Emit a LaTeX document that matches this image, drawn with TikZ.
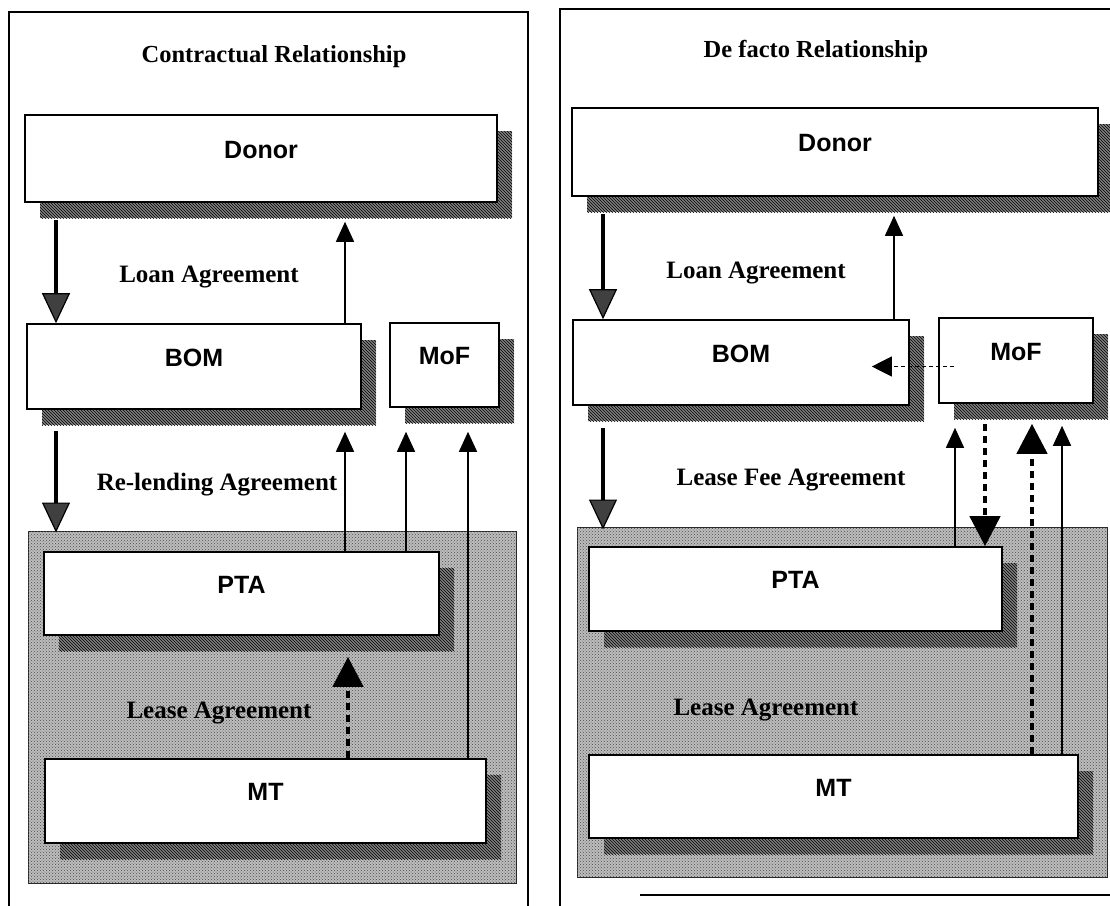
\documentclass[tikz,border=0pt]{standalone}
\usepackage{fontspec}
\setmainfont{Liberation Serif}
\newfontfamily\boxfont{Liberation Sans}
\usetikzlibrary{arrows.meta,calc,patterns,shadows}

\tikzset{
  box/.style={draw=black, line width=1.6pt, fill=white, inner sep=0pt,
    font=\boxfont\bfseries\fontsize{25}{28}\selectfont,
    text height=18pt, text depth=19pt,
    drop shadow={shadow xshift=15pt, shadow yshift=-16pt, opacity=1,
      fill=black!50, draw=none,
      postaction={pattern=north west lines, pattern color=black}}},
  zone/.style={draw=black!85, line width=1pt, fill=black!26, inner sep=0pt,
    postaction={pattern=crosshatch dots, pattern color=black!70}},
  heading/.style={font=\bfseries\fontsize{24.5}{28}\selectfont, anchor=base, inner sep=0pt},
  agree/.style={font=\bfseries\fontsize{25}{28}\selectfont, anchor=base, inner sep=0pt},
  frame/.style={line width=1.6pt},
  bigflow/.style={line width=4pt,
    -{Triangle[width=28pt,length=30pt,fill=black!75,line width=1.2pt]}},
  thinflow/.style={line width=1.5pt, -{Triangle[width=18pt,length=20pt]}},
  dashflow/.style={line width=4.5pt, dash pattern=on 7pt off 5pt,
    -{Triangle[width=30pt,length=30pt]}},
  hintflow/.style={line width=1.2pt, dash pattern=on 4pt off 3pt,
    -{Triangle[width=20pt,length=20pt]}},
}

\begin{document}
\begin{tikzpicture}[x=1pt, y=-1pt]
\useasboundingbox (0,0) rectangle (1110,905);
\fill[white] (0,0) rectangle (1110,905);

% panel frames
\draw[frame] (9,910) -- (9,12) -- (528,12) -- (528,910);
\draw[frame] (560,910) -- (560,9) -- (1115,9);
\draw[frame] (640,895) -- (1115,895);

% ---------------- contractual relationship ----------------
\node[heading] (titleL) at (274,62) {Contractual Relationship};

\node[zone, minimum width=488pt, minimum height=352pt] (zoneL) at (272,707) {};

\node[box, minimum width=472pt, minimum height=87pt] (donorL) at (261,158.5) {Donor};
\node[box, minimum width=334pt, minimum height=85pt] (bomL) at (194,366.5) {BOM};
\node[box, minimum width=109pt, minimum height=84pt] (mofL) at (444.5,365) {MoF};
\node[box, minimum width=395pt, minimum height=83pt] (ptaL) at (241.5,593.5) {PTA};
\node[box, minimum width=441pt, minimum height=84pt] (mtL) at (265.5,801) {MT};

\node[agree] (loanL) at (209,282) {Loan Agreement};
\node[agree] (relend) at (217,490) {Re-lending Agreement};
\node[agree] (leaseL) at (219,718) {Lease Agreement};

\coordinate (cL1) at (56,0);
\coordinate (cL2) at (345,0);
\coordinate (cL3) at (406,0);
\coordinate (cL4) at (468,0);
\coordinate (cL5) at (348,0);

\draw[bigflow] ($(donorL.south -| cL1)+(0,17)$) -- (bomL.north -| cL1);
\draw[thinflow] (bomL.north -| cL2) -- ($(donorL.south -| cL2)+(0,19)$);
\draw[bigflow] ($(bomL.south -| cL1)+(0,21)$) -- ($(zoneL.north -| cL1)+(0,2)$);
\draw[thinflow] (ptaL.north -| cL2) -- ($(bomL.south -| cL2)+(0,22)$);
\draw[thinflow] (ptaL.north -| cL3) -- ($(mofL.south -| cL3)+(0,24)$);
\draw[thinflow] (mtL.north -| cL4) -- ($(mofL.south -| cL4)+(0,24)$);
\draw[dashflow] (mtL.north -| cL5) -- ($(ptaL.south -| cL5)+(0,21)$);

% ---------------- de facto relationship ----------------
\node[heading] (titleR) at (816,57) {De facto Relationship};

\node[zone, minimum width=530pt, minimum height=350pt] (zoneR) at (842,702) {};

\node[box, minimum width=526pt, minimum height=88pt] (donorR) at (835,152) {Donor};
\node[box, minimum width=336pt, minimum height=85pt] (bomR) at (741,362.5) {BOM};
\node[box, minimum width=154pt, minimum height=85pt] (mofR) at (1016,360.5) {MoF};
\node[box, minimum width=413pt, minimum height=84pt] (ptaR) at (795.5,589) {PTA};
\node[box, minimum width=489pt, minimum height=83pt] (mtR) at (833.5,796.5) {MT};

\node[agree] (loanR) at (756,278) {Loan Agreement};
\node[agree] (leasefee) at (791,485) {Lease Fee Agreement};
\node[agree] (leaseR) at (766,715) {Lease Agreement};

\coordinate (cR1) at (603,0);
\coordinate (cR2) at (894,0);
\coordinate (cR3) at (955,0);
\coordinate (cR4) at (985,0);
\coordinate (cR5) at (1032,0);
\coordinate (cR6) at (1062,0);

\draw[bigflow] ($(donorR.south -| cR1)+(0,17)$) -- (bomR.north -| cR1);
\draw[thinflow] (bomR.north -| cR2) -- ($(donorR.south -| cR2)+(0,19)$);
\draw[hintflow] ($(mofR.west)+(16,6)$) -- ($(bomR.east |- mofR.west)+(-38,6)$);
\draw[bigflow] ($(bomR.south -| cR1)+(0,22)$) -- ($(zoneR.north -| cR1)+(0,3)$);
\draw[thinflow] (ptaR.north -| cR3) -- ($(mofR.south -| cR3)+(0,24)$);
\draw[dashflow] ($(mofR.south -| cR4)+(0,20)$) -- (ptaR.north -| cR4);
\draw[dashflow] (mtR.north -| cR5) -- ($(mofR.south -| cR5)+(0,20)$);
\draw[thinflow] (mtR.north -| cR6) -- ($(mofR.south -| cR6)+(0,22)$);
\end{tikzpicture}
\end{document}
